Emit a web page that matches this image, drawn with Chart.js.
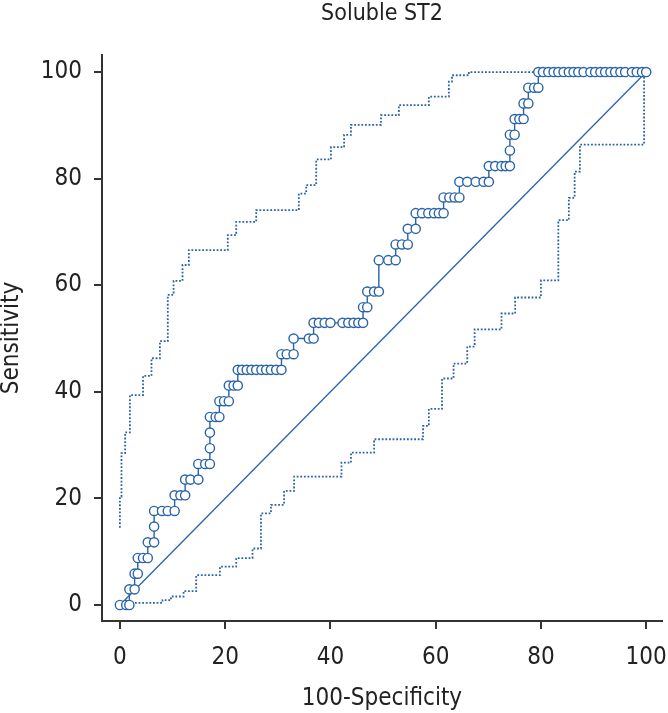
<!DOCTYPE html>
<html>
<head>
<meta charset="utf-8">
<title>Soluble ST2 ROC</title>
<script src="https://cdn.jsdelivr.net/npm/chart.js@4.4.0/dist/chart.umd.min.js"></script>
<style>
    body { margin: 0; background: #fff; }
    #wrap { width: 668px; height: 713px; }
</style>
</head>
<body>
<div id="wrap"><canvas id="roc" width="668" height="713"></canvas></div>
<script>
// Tick labels
const xTicks = [0, 20, 40, 60, 80, 100];
const yTicks = [0, 20, 40, 60, 80, 100];

// ROC curve (100-Specificity, Sensitivity)
const rocX = [
    0, 1.2, 1.8,
    1.8, 2.8,
    2.8, 3.4,
    3.4, 4.4, 5.3,
    5.3, 6.5,
    6.5,
    6.5, 8.0, 9.1, 10.4,
    10.4, 11.5, 12.4,
    12.4, 13.4, 14.9,
    14.9, 16.2, 17.1,
    17.1,
    17.1,
    17.1, 18.2, 18.9,
    18.9, 19.8, 20.7,
    20.7, 21.6, 22.4,
    22.4, 23.2, 24.1, 25.0, 25.9, 26.9, 27.8, 28.7, 29.7, 30.7,
    30.7, 31.7, 33.0,
    33.0, 35.9, 36.8,
    36.8, 37.8, 38.9, 40.0, 42.3, 43.4, 44.4, 45.3, 46.2,
    46.2, 47.0,
    47.0, 48.3, 49.2,
    49.2, 51.0, 52.4,
    52.4, 53.6, 54.7,
    54.7, 56.2,
    56.2, 57.4, 58.6, 59.7, 60.6, 61.5,
    61.5, 62.6, 63.6, 64.5,
    64.5, 66.0, 67.6, 69.1, 70.1,
    70.1, 71.3, 72.5, 73.3, 74.1,
    74.1,
    74.1, 75.0,
    75.0, 75.9, 76.7,
    76.7, 77.6,
    77.6, 78.7, 79.5,
    79.5, 80.4, 81.4, 82.4, 83.3, 84.3, 85.3, 86.2, 87.1, 88.1, 89.4,
    90.3, 91.3, 92.2, 93.2, 94.1, 95.1, 96.0, 97.3, 98.2, 99.2, 100
];
const rocY = [
    0, 0, 0,
    2.94, 2.94,
    5.88, 5.88,
    8.82, 8.82, 8.82,
    11.76, 11.76,
    14.71,
    17.65, 17.65, 17.65, 17.65,
    20.59, 20.59, 20.59,
    23.53, 23.53, 23.53,
    26.47, 26.47, 26.47,
    29.41,
    32.35,
    35.29, 35.29, 35.29,
    38.24, 38.24, 38.24,
    41.18, 41.18, 41.18,
    44.12, 44.12, 44.12, 44.12, 44.12, 44.12, 44.12, 44.12, 44.12, 44.12,
    47.06, 47.06, 47.06,
    50, 50, 50,
    52.94, 52.94, 52.94, 52.94, 52.94, 52.94, 52.94, 52.94, 52.94,
    55.88, 55.88,
    58.82, 58.82, 58.82,
    64.71, 64.71, 64.71,
    67.65, 67.65, 67.65,
    70.59, 70.59,
    73.53, 73.53, 73.53, 73.53, 73.53, 73.53,
    76.47, 76.47, 76.47, 76.47,
    79.41, 79.41, 79.41, 79.41, 79.41,
    82.35, 82.35, 82.35, 82.35, 82.35,
    85.29,
    88.24, 88.24,
    91.18, 91.18, 91.18,
    94.12, 94.12,
    97.06, 97.06, 97.06,
    100, 100, 100, 100, 100, 100, 100, 100, 100, 100, 100,
    100, 100, 100, 100, 100, 100, 100, 100, 100, 100, 100
];

// 95% confidence bounds (dotted)
const upperX = [0, 0, 0.3, 0.3, 1.0, 1.0, 1.9, 1.9, 4.4, 4.4, 6.0, 6.0, 7.6, 7.6, 9.1, 9.1,
    10.2, 10.2, 11.9, 11.9, 13.1, 13.1, 20.5, 20.5, 22.1, 22.1, 25.9, 25.9, 34.0, 34.0,
    35.4, 35.4, 37.3, 37.3, 40.1, 40.1, 42.6, 42.6, 43.9, 43.9, 49.6, 49.6, 53.0, 53.0,
    58.7, 58.7, 62.5, 62.5, 63.1, 63.1, 66.3, 66.3, 79.0];
const upperY = [14.5, 20.3, 20.3, 28.5, 28.5, 32.4, 32.4, 39.4, 39.4, 43.0, 43.0, 46.3, 46.3, 49.5, 49.5, 58.2,
    58.2, 60.8, 60.8, 63.8, 63.8, 66.6, 66.6, 69.4, 69.4, 71.9, 71.9, 74.1, 74.1, 77.2,
    77.2, 78.8, 78.8, 83.6, 83.6, 85.9, 85.9, 88.2, 88.2, 90.1, 90.1, 91.9, 91.9, 93.8,
    93.8, 95.4, 95.4, 98.2, 98.2, 99.4, 99.4, 100, 100];

const lowerX = [1.5, 8.1, 8.1, 9.7, 9.7, 12.1, 12.1, 14.5, 14.5, 19.0, 19.0, 22.1, 22.1, 25.2, 25.2,
    26.8, 26.8, 28.7, 28.7, 31.2, 31.2, 33.1, 33.1, 42.1, 42.1, 43.9, 43.9, 48.3, 48.3,
    57.6, 57.6, 58.7, 58.7, 61.2, 61.2, 63.4, 63.4, 66.0, 66.0, 67.4, 67.4, 72.5, 72.5,
    75.1, 75.1, 80.0, 80.0, 83.3, 83.3, 85.3, 85.3, 86.4, 86.4, 87.4, 87.4, 99.6, 99.6];
const lowerY = [0.4, 0.4, 0.9, 0.9, 1.6, 1.6, 2.6, 2.6, 5.6, 5.6, 7.2, 7.2, 8.8, 8.8, 10.6,
    10.6, 17.2, 17.2, 18.8, 18.8, 21.4, 21.4, 24.1, 24.1, 26.7, 26.7, 28.6, 28.6, 31.1,
    31.1, 33.6, 33.6, 36.8, 36.8, 42.5, 42.5, 45.3, 45.3, 48.5, 48.5, 51.7, 51.7, 54.7,
    54.7, 57.7, 57.7, 60.9, 60.9, 72.2, 72.2, 76.4, 76.4, 81.3, 81.3, 86.4, 86.4, 100];

// Reference diagonal
const diagX = [0, 100];
const diagY = [0, 100];

const blue = '#2a63a9';
const axisColor = '#333333';
const textColor = '#222222';
const family = "'Liberation Sans Narrow', 'DejaVu Sans Condensed', sans-serif";

function toPoints(xs, ys) {
    return xs.map((x, i) => ({ x: x, y: ys[i] }));
}

const ctx = document.getElementById('roc').getContext('2d');

new Chart(ctx, {
    type: 'scatter',
    data: {
        datasets: [
            {
                label: 'Soluble ST2',
                data: toPoints(rocX, rocY),
                showLine: true,
                borderColor: blue,
                borderWidth: 1.4,
                pointRadius: 4.6,
                pointBackgroundColor: '#ffffff',
                pointBorderColor: blue,
                pointBorderWidth: 1.4
            },
            {
                label: 'Reference',
                data: toPoints(diagX, diagY),
                showLine: true,
                borderColor: blue,
                borderWidth: 1.3,
                pointRadius: 0
            },
            {
                label: 'Upper 95% CI',
                data: toPoints(upperX, upperY),
                showLine: true,
                borderColor: blue,
                borderWidth: 1.8,
                borderDash: [1.8, 1.8],
                pointRadius: 0
            },
            {
                label: 'Lower 95% CI',
                data: toPoints(lowerX, lowerY),
                showLine: true,
                borderColor: blue,
                borderWidth: 1.8,
                borderDash: [1.8, 1.8],
                pointRadius: 0
            }
        ]
    },
    options: {
        responsive: false,
        animation: false,
        layout: { padding: { left: 0, right: 4, top: 0, bottom: 0 } },
        plugins: {
            legend: { display: false },
            tooltip: { enabled: false }
        },
        scales: {
            x: {
                type: 'linear',
                min: -3.4,
                max: 103,
                afterBuildTicks: (s) => { s.ticks = xTicks.map(v => ({ value: v })); },
                afterFit: (s) => {
                    s.height = 92;
                    s.paddingLeft = 0;
                    s.paddingRight = 0;
                },
                border: { color: axisColor, width: 2 },
                grid: { drawOnChartArea: false, color: axisColor, lineWidth: 2, tickLength: 8 },
                ticks: { color: textColor, font: { family: family, size: 24 }, padding: 14, maxRotation: 0 },
                title: {
                    display: true,
                    text: '100-Specificity',
                    color: textColor,
                    font: { family: family, size: 24 },
                    padding: { top: 0, bottom: 0 }
                }
            },
            top: {
                type: 'linear',
                axis: 'x',
                position: 'top',
                min: 0,
                max: 1,
                afterFit: (s) => {
                    s.height = 55;
                    s.paddingLeft = 0;
                    s.paddingRight = 0;
                },
                border: { display: false },
                grid: { display: false },
                ticks: { display: false },
                title: {
                    display: true,
                    text: 'Soluble ST2',
                    color: textColor,
                    font: { family: family, size: 23 },
                    padding: { top: 0, bottom: 0 }
                }
            },
            y: {
                type: 'linear',
                min: -3,
                max: 103.2,
                afterBuildTicks: (s) => { s.ticks = yTicks.map(v => ({ value: v })); },
                afterFit: (s) => {
                    s.width = 102;
                    s.paddingTop = 0;
                    s.paddingBottom = 0;
                },
                border: { color: axisColor, width: 2 },
                grid: { drawOnChartArea: false, color: axisColor, lineWidth: 2, tickLength: 8 },
                ticks: { color: textColor, font: { family: family, size: 24 }, padding: 12 },
                title: {
                    display: true,
                    text: 'Sensitivity',
                    color: textColor,
                    font: { family: family, size: 24, lineHeight: 1 },
                    padding: { top: 0, bottom: 0 }
                }
            }
        }
    }
});
</script>
</body>
</html>
